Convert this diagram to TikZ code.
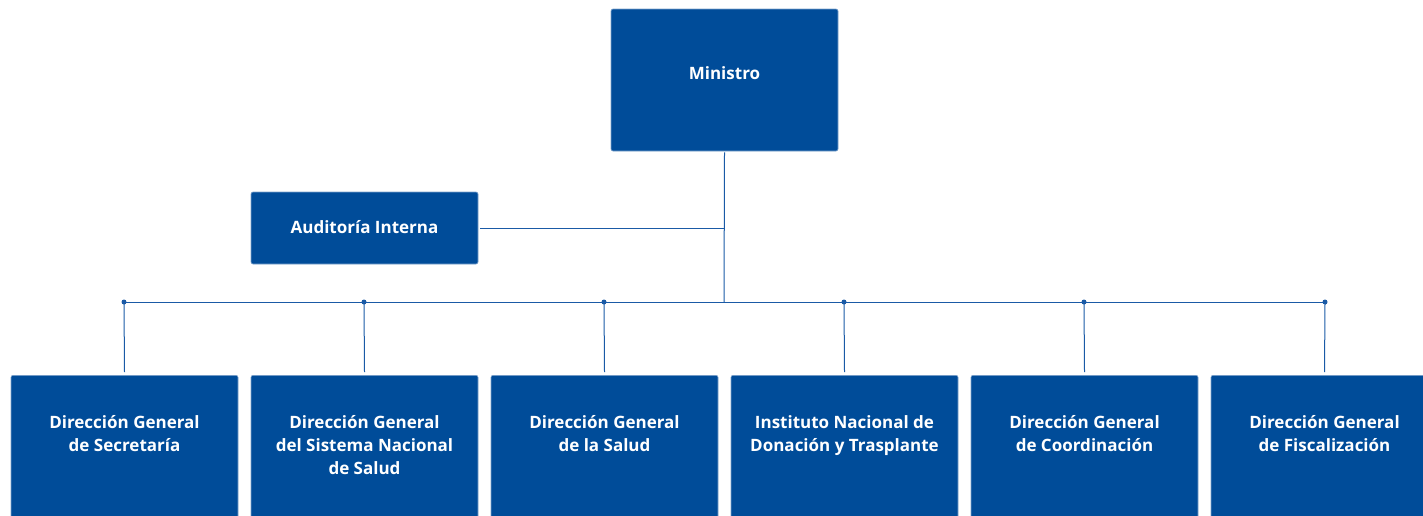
\documentclass[tikz,border=0pt]{standalone}
\usepackage{fontspec}
\setmainfont{Open Sans}
\definecolor{boxblue}{HTML}{004C99}
\definecolor{edgeblue}{HTML}{7FA3CC}
\definecolor{lineblue}{HTML}{1A5AA6}
\begin{document}
\begin{tikzpicture}[x=1pt,y=-1pt,
  orgbox/.style={draw=edgeblue,line width=0.6pt,fill=boxblue,rounded corners=2pt,minimum width=227pt,inner sep=0pt},
  orgtext/.style={text=white,font=\fontsize{17}{23}\selectfont\bfseries,align=center,inner sep=0pt},
  conn/.style={draw=lineblue,line width=1pt},
  dot/.style={circle,fill=lineblue,inner sep=0pt,minimum size=5pt}]
\useasboundingbox (0,0) rectangle (1423,515);
\clip (0,0) rectangle (1423,515);
% boxes
\node[orgbox,minimum height=142pt] (min) at (724.5,80) {};
\node[orgtext] (mint) at (724.5,73) {Ministro};
\node[orgbox,minimum height=72pt] (aud) at (364.5,228) {};
\node[orgtext] (audt) at (364.5,227) {Auditoría Interna};
\foreach \i/\cx in {1/124.5,2/364.5,3/604.5,4/844.5,5/1084.5,6/1324.5}{
  \node[orgbox,minimum height=170pt,anchor=north] (b\i) at (\cx,375) {};
}
\node[orgtext,anchor=north] (t1) at (b1.north) [yshift=-40pt] {Dirección General\\de Secretaría};
\node[orgtext,anchor=north] (t2) at (b2.north) [yshift=-40pt] {Dirección General\\del Sistema Nacional\\de Salud};
\node[orgtext,anchor=north] (t3) at (b3.north) [yshift=-40pt] {Dirección General\\de la Salud};
\node[orgtext,anchor=north] (t4) at (b4.north) [yshift=-40pt] {Instituto Nacional de\\Donación y Trasplante};
\node[orgtext,anchor=north] (t5) at (b5.north) [yshift=-40pt] {Dirección General\\de Coordinación};
\node[orgtext,anchor=north] (t6) at (b6.north) [yshift=-40pt] {Dirección General\\de Fiscalización};
% connectors
\coordinate (hub) at (724,302);
\coordinate (audj) at (724,228);
\draw[conn] (min.south) ++(0,1) -- (hub);
\draw[conn] (aud.east) ++(2,0) -- (audj);
\foreach \i/\cx in {1/124,2/364,3/604,4/844,5/1084,6/1325}{
  \node[dot] (d\i) at (\cx,302) {};
  \draw[conn] (d\i.center) -- ([yshift=3pt]b\i.north);
}
\draw[conn] (d1.center) -- (d6.center);
\end{tikzpicture}
\end{document}
